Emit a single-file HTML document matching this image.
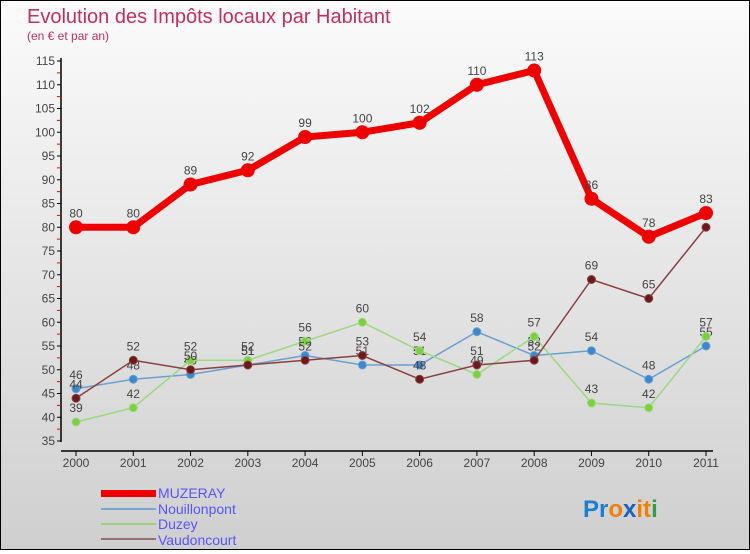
<!DOCTYPE html>
<html><head><meta charset="utf-8"><style>
body{margin:0}
#c{width:748px;height:548px;border:1px solid #000;background:linear-gradient(#fbfbfb,#cfcfcf);position:relative;font-family:"Liberation Sans",sans-serif}
</style></head><body>
<div id="c">
<svg width="748" height="548" id="s">
<text x="26" y="22" font-size="20" fill="#c0305a">Evolution des Impôts locaux par Habitant</text>
<text x="26" y="39" font-size="12" fill="#c0305a">(en € et par an)</text>
<g id="axes"></g><g id="series"></g>
<g>
<rect x="100" y="489" width="55" height="7" fill="#e00"/>
<text x="157" y="497" font-size="14" fill="#55f">MUZERAY</text>
<line x1="100" y1="508" x2="155" y2="508" stroke="#7aa8d0" stroke-width="2"/>
<text x="157" y="513" font-size="14" fill="#55f">Nouillonpont</text>
<line x1="100" y1="523" x2="155" y2="523" stroke="#9ed080" stroke-width="2"/>
<text x="157" y="528" font-size="14" fill="#55f">Duzey</text>
<line x1="100" y1="538" x2="155" y2="538" stroke="#957070" stroke-width="2"/>
<text x="157" y="544" font-size="14" fill="#55f">Vaudoncourt</text>
</g>
<text x="582" y="516" font-size="24" font-weight="bold"><tspan fill="#1a7fd0">Pr</tspan><tspan fill="#f08000">o</tspan><tspan fill="#1a60c0">x</tspan><tspan fill="#f08000">it</tspan><tspan fill="#30a040">i</tspan></text>
</svg></div>
<script>
const years=["2000","2001","2002","2003","2004","2005","2006","2007","2008","2009","2010","2011"];
const yTicks=[35,40,45,50,55,60,65,70,75,80,85,90,95,100,105,110,115];
const muzeray=[80,80,89,92,99,100,102,110,113,86,78,83];
const nouillonpont=[46,48,49,51,53,51,51,58,53,54,48,55];
const duzey=[39,42,52,52,56,60,54,49,57,43,42,57];
const vaudoncourt=[44,52,50,51,52,53,48,51,52,69,65,80];
const NS="http://www.w3.org/2000/svg";
const X=i=>75+i*(630/11);
const Y=v=>440-(v-35)*4.75;
function mk(t,a,p){const e=document.createElementNS(NS,t);for(const k in a)e.setAttribute(k,a[k]);p.appendChild(e);return e;}
const ax=document.getElementById('axes');
let l=mk('line',{x1:60,y1:57,x2:60,y2:441,stroke:'#000','stroke-width':1.5},ax);


yTicks.forEach(v=>{
 mk('line',{x1:56,y1:Y(v),x2:60,y2:Y(v),stroke:'#000'},ax);
 if(v<115)mk('line',{x1:56,y1:Y(v+2.5),x2:60,y2:Y(v+2.5),stroke:'#e00'},ax);
 const t=mk('text',{x:54,y:Y(v)+4,'font-size':12,fill:'#444','text-anchor':'end'},ax);
 
 
 t.textContent=v;
});
l=mk('line',{x1:60,y1:450,x2:712,y2:450,stroke:'#000','stroke-width':1.5},ax);


years.forEach((y,i)=>{
 mk('line',{x1:X(i),y1:450,x2:X(i),y2:455,stroke:'#000'},ax);
 const t=mk('text',{x:X(i),y:466,'font-size':12,fill:'#444','text-anchor':'middle'},ax);
 
 
 t.textContent=y;
});
const sg=document.getElementById('series');
function draw(name,vals,col,dot,w,r){
 const g=mk('g',{},sg);
 
 
 const p=mk('polyline',{points:vals.map((v,i)=>X(i)+','+Y(v)).join(' '),fill:'none',stroke:col,'stroke-width':w},g);
 
 
 vals.forEach((v,i)=>{
  const c=mk('circle',{cx:X(i),cy:Y(v),r:r,fill:dot,stroke:col,'stroke-width':1},g);
  
  
  const t=mk('text',{x:X(i),y:Y(v)-10,'font-size':12,fill:'#444','text-anchor':'middle'},g);
  
  
  t.textContent=v;
 });
}
draw('nouillonpont',nouillonpont,'#6aa0d0','#3a88d0',1.5,4);
draw('duzey',duzey,'#9ed880','#7cd040',1.5,4);
draw('vaudoncourt',vaudoncourt,'#8a4040','#6a1a1a',1.5,4);
draw('muzeray',muzeray,'#ee0000','#ee0000',7,6.5);
</script>
</body></html>
